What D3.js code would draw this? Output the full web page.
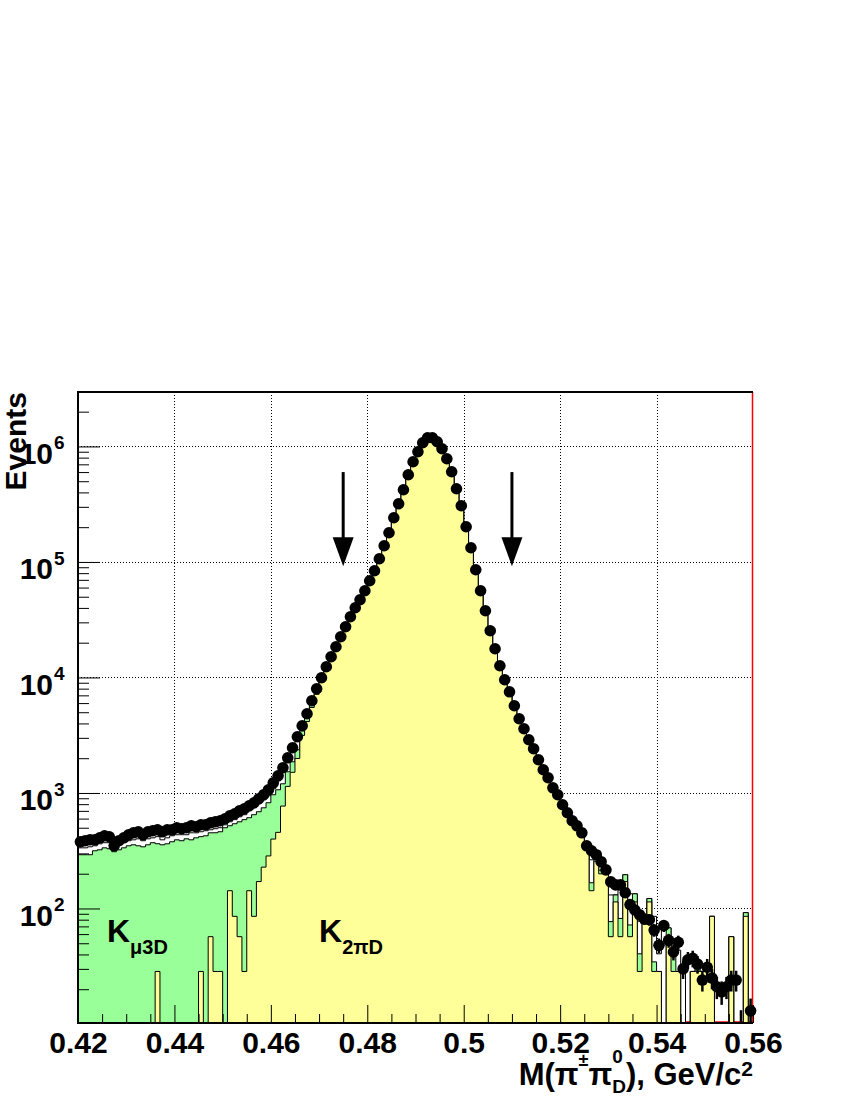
<!DOCTYPE html>
<html>
<head>
<meta charset="utf-8">
<script src="https://cdn.jsdelivr.net/npm/d3@7"></script>
<style>
body { margin: 0; background: #fff; }
svg text { font-family: "Liberation Sans", Arial, Helvetica, sans-serif; font-weight: bold; fill: #000; }
</style>
</head>
<body>
<script>
//histogram binning: 140 bins of 1 MeV from 0.42 to 0.56
var binLo = 0.42, binW = 0.001, nBins = 140;

//data (black points), one value per bin
var dataCounts = [
    378, 386, 393, 393, 409, 426, 418, 349, 386, 409,
    435, 452, 461, 435, 461, 471, 480, 461, 480, 480,
    500, 490, 500, 520, 510, 531, 531, 552, 563, 575,
    598, 635, 661, 701, 730, 775, 823, 891, 965, 1066,
    1225, 1409, 1653, 2017, 2462, 3066, 3818, 4850, 6284, 7982,
    9940, 12380, 15110, 18440, 22510, 27480, 33540, 40120, 47070, 56320,
    68740, 83900, 106600, 138100, 178900, 241300, 319100, 421900, 568900, 737200,
    899600, 1076000, 1189000, 1189000, 1098000, 955000, 782500, 603900, 430300, 306600,
    201700, 132700, 85580, 56320, 37800, 25370, 17720, 12630, 9552, 7517,
    5689, 4390, 3597, 2888, 2414, 1939, 1588, 1354, 1109, 965,
    791, 674, 575, 520, 452, 349, 316, 292, 254, 216,
    170, 160, 160, 137, 108, 97, 88, 81, 80, 65,
    48, 71, 53, 42, 51, 30, 36, 37, 33, 24,
    31, 25, 21, 19, 21, 24, 24, 10, 0, 13
];

//MC K2piD (yellow)
var k2piMC = [
    0, 0, 0, 0, 0, 0, 0, 0, 0, 0,
    0, 0, 0, 0, 0, 0, 28.5, 0, 0, 0,
    0, 0, 0, 0, 0, 28.5, 0, 57, 28.5, 28.5,
    0, 142.5, 85.5, 57, 28.5, 142.5, 85.5, 171, 228, 285,
    399, 456, 770, 1140, 1510, 1990, 3150, 4150, 5500, 7150,
    9050, 11700, 14300, 17500, 21400, 26200, 32000, 38300, 45000, 53900,
    65800, 80400, 102000, 132000, 171000, 231000, 306000, 405000, 546000, 708000,
    864000, 1030000, 1100000, 1110000, 1050000, 915000, 750000, 579000, 413000, 294000,
    193000, 127000, 82000, 54000, 36200, 24300, 16900, 12000, 9050, 7100,
    5350, 4120, 3380, 2700, 2250, 1800, 1480, 1260, 1030, 895,
    730, 620, 530, 485, 420, 342, 142.5, 256.5, 199.5, 199.5,
    57, 114, 57, 171, 57, 114, 28.5, 85.5, 114, 28.5,
    28.5, 0, 57, 28.5, 28.5, 0, 0, 28.5, 28.5, 28.5,
    28.5, 85.5, 0, 0, 0, 57, 0, 0, 85.5, 0
];

//MC Kmu3D (green, stacked on K2piD)
var kmu3MC = [
    292, 292, 292, 316, 322, 335, 329, 310, 322, 335,
    349, 356, 349, 342, 356, 371, 335, 356, 363, 378,
    393, 386, 401, 393, 409, 390, 426, 395, 424, 433,
    500, 378, 456, 506, 559, 468, 563, 517, 516, 538,
    566, 610, 431, 386, 353, 376, 300, 300, 300, 300,
    300, 250, 280, 320, 360, 400, 450, 500, 550, 600,
    650, 700, 750, 800, 850, 900, 950, 1000, 1050, 1100,
    1150, 1200, 1250, 1250, 1200, 1150, 1100, 1050, 1000, 950,
    900, 850, 800, 750, 700, 600, 500, 400, 300, 250,
    200, 160, 140, 120, 100, 90, 80, 70, 60, 55,
    50, 45, 40, 35, 30, 20, 24.5, 14, 15, 6,
    20, 17, 25, 25, 15, 20, 12, 0, 8, 6,
    0, 0, 11, 15, 0, 0, 0, 0, 6, 0,
    0, 0, 0, 0, 0, 0, 0, 0, 6.5, 0
];

//MC other backgrounds (white, on top)
var otherMC = [
    43, 43, 50, 33, 41, 36, 42, 46, 41, 43,
    37, 37, 52, 44, 45, 38, 55, 37, 46, 48,
    42, 49, 34, 59, 43, 43, 45, 28, 38, 39,
    30, 43, 46, 59, 61, 91, 96, 119, 129, 123,
    122, 209, 325, 337, 411, 465, 200, 150, 150, 150,
    150, 80, 100, 110, 120, 130, 150, 160, 170, 180,
    200, 220, 240, 260, 280, 300, 320, 340, 360, 380,
    400, 420, 440, 440, 420, 400, 380, 360, 340, 320,
    300, 280, 260, 240, 220, 200, 180, 160, 140, 120,
    100, 80, 60, 50, 40, 35, 30, 25, 20, 15,
    15, 10, 10, 10, 10, 0, 97, 10, 15, 5,
    54, 0, 63, 0, 62, 0, 37, 0, 0, 51,
    12, 68, 0, 0, 15, 28.5, 0, 0, 0, 0,
    0, 0, 0, 0, 0, 0, 0, 0, 0, 0
];

//axis ticks
var xTicks = [0.42, 0.44, 0.46, 0.48, 0.50, 0.52, 0.54, 0.56];
var yDecades = [1e2, 1e3, 1e4, 1e5, 1e6];

//signal window arrows
var arrowX = [0.475, 0.51];
var arrowTop = 6.0e5, arrowTip = 9.2e4;

//component labels
var compSub = ["\u03bc3D", "2\u03c0D"];
var compX = [0.426, 0.47];
var compY = 51;

var width = 850, height = 1100;

var x = d3.scaleLinear().domain([0.42, 0.56]).range([78, 753]);
var y = d3.scaleLog().domain([10.2, 2.96e6]).range([1023, 392]);

var x0 = x.range()[0], x1 = x.range()[1],
    yTop = y.range()[1], yBot = y.range()[0];

var svg = d3.select("body").append("svg")
    .attr("width", width)
    .attr("height", height);

svg.append("rect").attr("width", width).attr("height", height).attr("fill", "#fff");

svg.append("clipPath").attr("id", "plotclip")
    .append("rect")
    .attr("x", x0).attr("y", yTop)
    .attr("width", x1 - x0).attr("height", yBot - yTop);

//dotted grid
var xGrid = xTicks.slice(1, -1);
svg.append("g").selectAll("line").data(xGrid).join("line")
    .attr("x1", function(d){ return Math.round(x(d)) + 0.5; })
    .attr("x2", function(d){ return Math.round(x(d)) + 0.5; })
    .attr("y1", yTop).attr("y2", yBot)
    .attr("stroke", "#000").attr("stroke-dasharray", "1,2");
svg.append("g").selectAll("line").data(yDecades).join("line")
    .attr("x1", x0).attr("x2", x1)
    .attr("y1", function(d){ return Math.round(y(d)) + 0.5; })
    .attr("y2", function(d){ return Math.round(y(d)) + 0.5; })
    .attr("stroke", "#000").attr("stroke-dasharray", "1,2");

//red empty histogram along the bottom
svg.append("line")
    .attr("x1", x(0.535)).attr("x2", x1)
    .attr("y1", yBot - 1).attr("y2", yBot - 1)
    .attr("stroke", "#ff0000").attr("stroke-width", 1.5);

//stacked histograms
var cumK2pi = k2piMC.slice();
var cumKmu3 = k2piMC.map(function(v, i){ return v + kmu3MC[i]; });
var cumAll = cumKmu3.map(function(v, i){ return v + otherMC[i]; });

var yOut = yBot + 4;
function stepPath(vals){
    var pts = [[x(binLo), yOut]];
    vals.forEach(function(v, i){
        var yy = v >= y.domain()[0] ? y(v) : yOut;
        pts.push([x(binLo + i * binW), yy]);
        pts.push([x(binLo + (i + 1) * binW), yy]);
    });
    pts.push([x(binLo + nBins * binW), yOut]);
    return d3.line()(pts) + "Z";
}

var hists = svg.append("g").attr("clip-path", "url(#plotclip)");
[[cumAll, "#ffffff"], [cumKmu3, "#99ff99"], [cumK2pi, "#ffff99"]].forEach(function(h){
    hists.append("path")
        .attr("d", stepPath(h[0]))
        .attr("fill", h[1])
        .attr("stroke", "#000")
        .attr("stroke-width", 1)
        .attr("stroke-linejoin", "miter");
});

//red line at the upper edge of the range
svg.append("line")
    .attr("x1", x1 - 0.5).attr("x2", x1 - 0.5)
    .attr("y1", yTop).attr("y2", yBot)
    .attr("stroke", "#ff0000").attr("stroke-width", 1.5);

//frame
svg.append("path")
    .attr("d", "M" + x1 + "," + yTop + "H" + x0 + "V" + yBot + "H" + x1)
    .attr("fill", "none").attr("stroke", "#000").attr("stroke-width", 2);

//x axis ticks
var xMinor = d3.range(0, 29).map(function(i){ return 0.42 + i * 0.005; })
    .filter(function(d, i){ return i % 4 != 0; });
svg.append("g").attr("transform", "translate(0," + yBot + ")")
    .call(d3.axisBottom(x).tickValues(xMinor).tickSize(-9).tickFormat(""))
    .call(function(g){ g.select(".domain").remove(); });
var gx = svg.append("g").attr("transform", "translate(0," + yBot + ")")
    .call(d3.axisBottom(x).tickValues(xTicks).tickSize(-18)
        .tickFormat(function(d){ return String(+d.toFixed(2)); }))
    .call(function(g){ g.select(".domain").remove(); });
gx.selectAll("text")
    .attr("y", 30).attr("dy", 0)
    .style("font-size", "30px");

//y axis ticks
var yMinor = [];
[1, 10, 1e2, 1e3, 1e4, 1e5, 1e6].forEach(function(dec){
    for (var m = 2; m <= 9; m++) {
        var v = m * dec;
        if (v > y.domain()[0] && v < y.domain()[1]) yMinor.push(v);
    }
});
svg.append("g").attr("transform", "translate(" + x0 + ",0)")
    .call(d3.axisLeft(y).tickValues(yMinor).tickSize(-11).tickFormat(""))
    .call(function(g){ g.select(".domain").remove(); });
svg.append("g").attr("transform", "translate(" + x0 + ",0)")
    .call(d3.axisLeft(y).tickValues(yDecades).tickSize(-22).tickFormat(""))
    .call(function(g){ g.select(".domain").remove(); });

var yLab = svg.append("g").selectAll("g").data(yDecades).join("g");
yLab.append("text")
    .attr("x", 53).attr("y", function(d){ return y(d) + 17.5; })
    .attr("text-anchor", "end")
    .style("font-size", "30px")
    .text("10");
yLab.append("text")
    .attr("x", 54).attr("y", function(d){ return y(d) + 3; })
    .style("font-size", "19px")
    .text(function(d){ return Math.round(Math.log10(d)); });

//data points with error bars
var pts = dataCounts.map(function(v, i){
    return { x: binLo + (i + 0.5) * binW, v: v };
}).filter(function(d){ return d.v > 0; });

svg.append("g").attr("clip-path", "url(#plotclip)")
    .selectAll("line").data(pts).join("line")
    .attr("x1", function(d){ return x(d.x); })
    .attr("x2", function(d){ return x(d.x); })
    .attr("y1", function(d){ return y(Math.max(d.v - Math.sqrt(d.v), 1)); })
    .attr("y2", function(d){ return y(d.v + Math.sqrt(d.v)); })
    .attr("stroke", "#000").attr("stroke-width", 2.5);

svg.append("g").selectAll("circle")
    .data(pts.filter(function(d){ return d.v >= y.domain()[0]; }))
    .join("circle")
    .attr("cx", function(d){ return x(d.x); })
    .attr("cy", function(d){ return y(d.v); })
    .attr("r", 5.8)
    .attr("fill", "#000");

//arrows
var arr = svg.append("g").selectAll("g").data(arrowX).join("g");
arr.append("line")
    .attr("x1", function(d){ return x(d); })
    .attr("x2", function(d){ return x(d); })
    .attr("y1", y(arrowTop))
    .attr("y2", y(arrowTip) - 20)
    .attr("stroke", "#000").attr("stroke-width", 3);
arr.append("path")
    .attr("d", function(d){
        var cx = x(d), ty = y(arrowTip);
        return "M" + (cx - 10.5) + "," + (ty - 29) + "L" + (cx + 10.5) + "," + (ty - 29) + "L" + cx + "," + ty + "Z";
    })
    .attr("fill", "#000");

//component labels
compSub.forEach(function(s, i){
    var t = svg.append("text")
        .attr("x", x(compX[i])).attr("y", y(compY))
        .style("font-size", "32px");
    t.append("tspan").text("K");
    t.append("tspan").text(s).style("font-size", "20px").attr("dy", 12);
});

//axis titles
svg.append("text")
    .attr("transform", "translate(26," + yTop + ") rotate(-90)")
    .attr("text-anchor", "end")
    .style("font-size", "30px")
    .text("Events");

var xt = svg.append("text")
    .attr("x", x1).attr("y", 1085)
    .attr("text-anchor", "end")
    .style("font-size", "31px");
xt.append("tspan").text("M(\u03c0");
xt.append("tspan").text("\u00b1").style("font-size", "18px").attr("dy", -19);
xt.append("tspan").text("\u03c0").attr("dy", 19);
var sup0 = xt.append("tspan").text("0").style("font-size", "19px").attr("dy", -22);
var w0 = sup0.node().getComputedTextLength();
xt.append("tspan").text("D").style("font-size", "19px").attr("dx", -w0).attr("dy", 30);
xt.append("tspan").text("), GeV/c").attr("dy", -8);
xt.append("tspan").text("2").style("font-size", "21px").attr("dy", -9);
</script>
</body>
</html>
